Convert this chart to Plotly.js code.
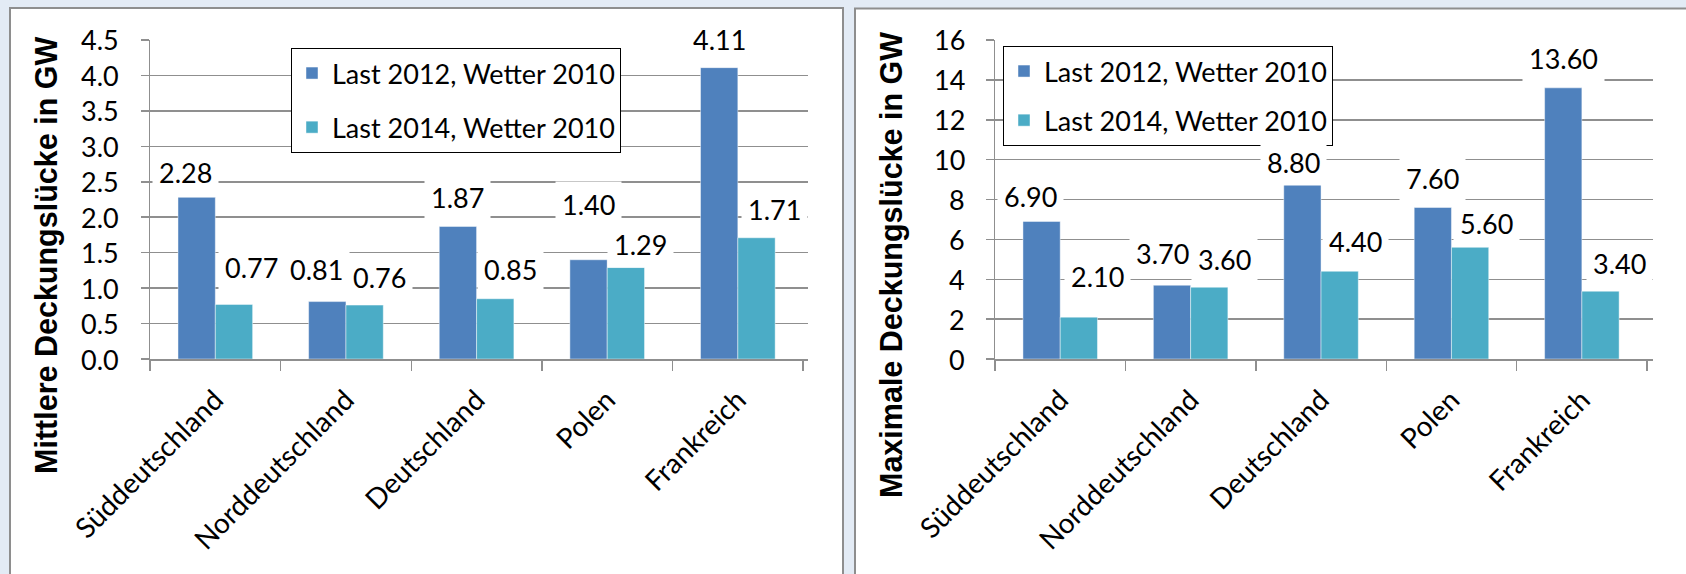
<!DOCTYPE html>
<html>
<head>
<meta charset="utf-8">
<script src="https://cdn.plot.ly/plotly-3.0.1.min.js"></script>
<style>html,body{margin:0;padding:0;background:#e3ebf5;}#chart{width:1686px;height:574px;}</style>
</head>
<body>
<div id="chart"></div>
<script>
// ---- data ----
const categories = ['Süddeutschland', 'Norddeutschland', 'Deutschland', 'Polen', 'Frankreich'];
const seriesNames = ['Last 2012, Wetter 2010', 'Last 2014, Wetter 2010'];
const mean2012 = [2.28, 0.81, 1.87, 1.40, 4.11];
const mean2014 = [0.77, 0.76, 0.85, 1.29, 1.71];
const max2012 = [6.90, 3.70, 8.80, 7.60, 13.60];
const max2014 = [2.10, 3.60, 4.40, 5.60, 3.40];
const leftTicks = [0, 0.5, 1, 1.5, 2, 2.5, 3, 3.5, 4, 4.5];
const leftTickText = ['0.0', '0.5', '1.0', '1.5', '2.0', '2.5', '3.0', '3.5', '4.0', '4.5'];
const rightTicks = [0, 2, 4, 6, 8, 10, 12, 14, 16];
const rightTickText = ['0', '2', '4', '6', '8', '10', '12', '14', '16'];
const leftTitle = 'Mittlere Deckungslücke in GW';
const rightTitle = 'Maximale Deckungslücke in GW';

// ---- label placement (pixel nudges, style only) ----
const leftShiftY = [[25, 32, 29, 55, 28], [37, 28, 29, 23, 28]];
const leftShiftX = [[-11, -11, 0, 0, 0], [18, 15, 15, 15, 18]];
const rightShiftY = [[25, 32, 21, 29, 29], [41, 28, 30, 24, 28]];
const rightShiftX = [[-11, -9, -9, 0, 0], [19, 15, 16, 16, 19]];

const FONT = 'Lato, "Liberation Sans", Arial, sans-serif';
const TFONT = '"Liberation Sans", Arial, sans-serif';
const FS = 27;
const colors = ['#4F81BD', '#4BACC6'];
const outline = 'rgba(255,255,255,0.45)';
const gridColor = '#8f8f8f';
const bargap = 1.5 / 3.5;
const W = 1686, H = 574;
const px = v => v / W, py = v => 1 - v / H;

const traces = [
  {type: 'bar', x: categories, y: mean2012, name: seriesNames[0], marker: {color: colors[0], line: {color: outline, width: 1}}, xaxis: 'x', yaxis: 'y', legend: 'legend', legendgroup: 'a', hoverinfo: 'none'},
  {type: 'bar', x: categories, y: mean2014, name: seriesNames[1], marker: {color: colors[1], line: {color: outline, width: 1}}, xaxis: 'x', yaxis: 'y', legend: 'legend', legendgroup: 'b', hoverinfo: 'none'},
  {type: 'bar', x: categories, y: max2012, name: seriesNames[0], marker: {color: colors[0], line: {color: outline, width: 1}}, xaxis: 'x2', yaxis: 'y2', legend: 'legend2', legendgroup: 'c', hoverinfo: 'none'},
  {type: 'bar', x: categories, y: max2014, name: seriesNames[1], marker: {color: colors[1], line: {color: outline, width: 1}}, xaxis: 'x2', yaxis: 'y2', legend: 'legend2', legendgroup: 'd', hoverinfo: 'none'}
];

const annotations = [];
function addLabels(vals, s, xref, yref, sx, sy) {
  const off = (1 - bargap) / 4;
  vals.forEach((v, i) => {
    annotations.push({
      x: i + (s === 0 ? -off : off), y: v, xref: xref, yref: yref,
      text: v.toFixed(2), showarrow: false, xanchor: 'center', yanchor: 'middle',
      xshift: sx[s][i], yshift: sy[s][i],
      bgcolor: '#ffffff', borderpad: 6,
      font: {family: FONT, size: FS, color: '#000'}
    });
  });
}
addLabels(mean2012, 0, 'x', 'y', leftShiftX, leftShiftY);
addLabels(mean2014, 1, 'x', 'y', leftShiftX, leftShiftY);
addLabels(max2012, 0, 'x2', 'y2', rightShiftX, rightShiftY);
addLabels(max2014, 1, 'x2', 'y2', rightShiftX, rightShiftY);

// y tick labels (placed on the library's y scale, offset from the axis like the original)
function addTickLabels(vals, texts, yref, xRight) {
  vals.forEach((v, i) => {
    annotations.push({xref: 'paper', yref: yref, x: px(xRight), y: v, text: texts[i], showarrow: false,
      xanchor: 'right', yanchor: 'middle', font: {family: FONT, size: FS, color: '#000'}});
  });
}
addTickLabels(leftTicks, leftTickText, 'y', 121);
addTickLabels(rightTicks, rightTickText, 'y2', 967);

annotations.push({xref: 'paper', yref: 'paper', x: px(46), y: py(256), text: '<b>' + leftTitle + '</b>', textangle: -90, showarrow: false, xanchor: 'center', yanchor: 'middle', font: {family: TFONT, size: 30.5, color: '#000'}});
annotations.push({xref: 'paper', yref: 'paper', x: px(891), y: py(265), text: '<b>' + rightTitle + '</b>', textangle: -90, showarrow: false, xanchor: 'center', yanchor: 'middle', font: {family: TFONT, size: 30.5, color: '#000'}});

const xaxisBase = {
  type: 'category', tickson: 'boundaries', ticks: 'outside', ticklen: 10, tickcolor: gridColor, tickwidth: 1.5,
  showline: true, linecolor: gridColor, linewidth: 1.5, showgrid: false, tickangle: -45, ticklabelstandoff: 12,
  tickfont: {family: FONT, size: 28, color: '#000'}, fixedrange: true
};
const yaxisBase = {
  ticks: 'outside', ticklen: 8, tickcolor: gridColor, tickwidth: 1.5, showticklabels: false, tickmode: 'array',
  showline: true, linecolor: gridColor, linewidth: 1.5, showgrid: true, gridcolor: gridColor, gridwidth: 1.5,
  zeroline: false, fixedrange: true, domain: [py(359), py(40)]
};

const layout = {
  width: W, height: H, autosize: false,
  margin: {l: 0, r: 0, t: 0, b: 0},
  paper_bgcolor: '#e3ebf5', plot_bgcolor: 'rgba(0,0,0,0)',
  barmode: 'group', bargap: bargap, bargroupgap: 0,
  showlegend: true,
  font: {family: FONT, size: FS, color: '#000'},
  xaxis: Object.assign({}, xaxisBase, {domain: [px(150), px(808)], anchor: 'y'}),
  yaxis: Object.assign({}, yaxisBase, {range: [0, 4.5], tickvals: leftTicks, anchor: 'x'}),
  xaxis2: Object.assign({}, xaxisBase, {domain: [px(995), px(1653)], anchor: 'y2'}),
  yaxis2: Object.assign({}, yaxisBase, {range: [0, 16], tickvals: rightTicks, anchor: 'x2'}),
  legend: {x: px(291), y: py(48), xanchor: 'left', yanchor: 'top', bgcolor: '#fff', bordercolor: '#000', borderwidth: 1,
    font: {family: FONT, size: FS, color: '#000'}, traceorder: 'grouped', tracegroupgap: 16},
  legend2: {x: px(1003), y: py(46), xanchor: 'left', yanchor: 'top', bgcolor: '#fff', bordercolor: '#000', borderwidth: 1,
    font: {family: FONT, size: FS, color: '#000'}, traceorder: 'grouped', tracegroupgap: 11},
  shapes: [
    {type: 'rect', xref: 'paper', yref: 'paper', x0: px(10), x1: px(843), y0: -0.2, y1: py(8), layer: 'below', fillcolor: '#ffffff', line: {color: '#8e8e8e', width: 2}},
    {type: 'rect', xref: 'paper', yref: 'paper', x0: px(855), x1: 1.2, y0: -0.2, y1: py(8.5), layer: 'below', fillcolor: '#ffffff', line: {color: '#8e8e8e', width: 2}}
  ],
  annotations: annotations
};

Plotly.newPlot('chart', traces, layout, {displayModeBar: false, staticPlot: true});
</script>
</body>
</html>
